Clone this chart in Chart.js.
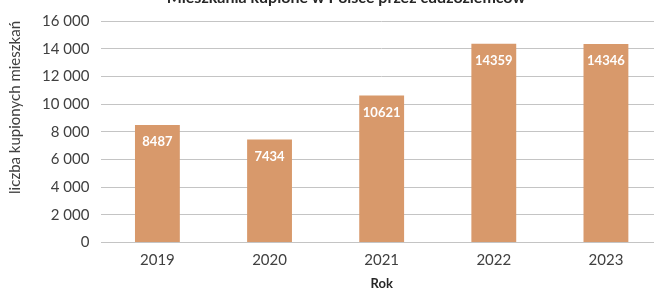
<!DOCTYPE html>
<html lang="pl">
<head>
<meta charset="utf-8">
<script src="https://cdn.jsdelivr.net/npm/chart.js@4.4.1/dist/chart.umd.min.js"></script>
<style>
  html, body { margin: 0; padding: 0; background: #fff; overflow: hidden; }
  #wrap { width: 662px; height: 288px; }
</style>
</head>
<body>
<div id="wrap"><canvas id="chart" width="662" height="288"></canvas></div>
<script>
// dane z wykresu
const lata = ['2019', '2020', '2021', '2022', '2023'];
const mieszkania = [8487, 7434, 10621, 14359, 14346];
const osY = [0, 2000, 4000, 6000, 8000, 10000, 12000, 14000, 16000];

const tytul = 'Mieszkania kupione w Polsce przez cudzoziemców';
const tytulY = 'liczba kupionych mieszkań';
const tytulX = 'Rok';

function formatuj(v) {
    return String(v).replace(/\B(?=(\d{3})+(?!\d))/g, ' ');
}

// wartosci na slupkach
const etykiety = {
    id: 'etykiety',
    afterDatasetsDraw(chart) {
        const ctx = chart.ctx;
        const meta = chart.getDatasetMeta(0);
        ctx.save();
        ctx.fillStyle = '#ffffff';
        ctx.font = 'bold 13px Lato';
        ctx.textAlign = 'center';
        ctx.textBaseline = 'middle';
        meta.data.forEach((bar, i) => {
            ctx.fillText(String(mieszkania[i]), bar.x, bar.y + 17);
        });
        ctx.restore();
    }
};

// tytul troche w prawo, jak w oryginale
const przesunTytul = {
    id: 'przesunTytul',
    afterLayout(chart) {
        if (chart.titleBlock) chart.titleBlock.left += 24;
    }
};

const ctx = document.getElementById('chart');
const chart = new Chart(ctx, {
    type: 'bar',
    data: {
        labels: lata,
        datasets: [{
            data: mieszkania,
            backgroundColor: '#d8996b',
            hoverBackgroundColor: '#d8996b',
            barPercentage: 0.8,
            categoryPercentage: 0.5
        }]
    },
    options: {
        responsive: false,
        animation: false,
        devicePixelRatio: 1,
        layout: { padding: { left: 6, right: 0, top: 0, bottom: 0 } },
        plugins: {
            legend: { display: false },
            tooltip: { enabled: false },
            title: {
                display: true,
                text: tytul,
                color: '#262626',
                font: { family: 'Lato', size: 16, weight: 'bold' },
                padding: { top: -13, bottom: 13.6 }
            }
        },
        scales: {
            x: {
                grid: { display: false },
                border: { display: true, color: '#c4c4c4', width: 1 },
                ticks: {
                    color: '#404040',
                    font: { family: 'Lato', size: 15 },
                    padding: 1
                },
                title: {
                    display: true,
                    text: tytulX,
                    color: '#262626',
                    font: { family: 'Lato', size: 13, weight: 'bold' },
                    padding: { top: 6, bottom: -4 }
                }
            },
            y: {
                min: 0,
                max: 16000,
                afterBuildTicks: (axis) => { axis.ticks = osY.map(v => ({ value: v })); },
                grid: { color: '#c4c4c4', lineWidth: 1, drawTicks: false },
                border: { display: false },
                ticks: {
                    color: '#404040',
                    font: { family: 'Lato', size: 15 },
                    padding: 12,
                    callback: (v) => formatuj(v)
                },
                title: {
                    display: true,
                    text: tytulY,
                    align: 'end',
                    color: '#404040',
                    font: { family: 'Lato', size: 15 },
                    padding: { top: 0, bottom: 6 }
                }
            }
        }
    },
    plugins: [etykiety, przesunTytul]
});
</script>
</body>
</html>
